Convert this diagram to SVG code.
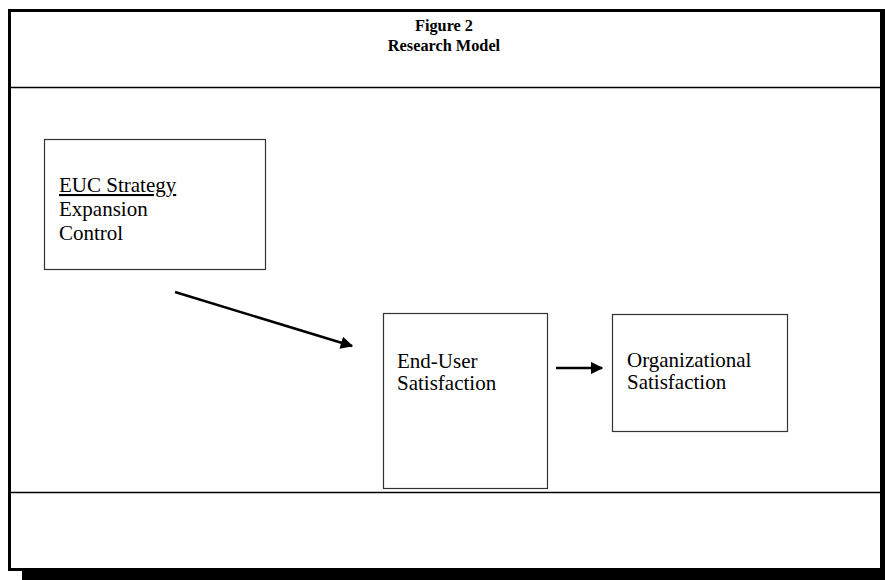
<svg xmlns="http://www.w3.org/2000/svg" width="885" height="580" viewBox="0 0 885 580">
<style>
.box{fill:#fff;stroke:#333;stroke-width:1.2}
.t{font-family:"Liberation Serif","Times New Roman",serif;font-size:21px;fill:#000}
.title{font-family:"Liberation Serif","Times New Roman",serif;font-size:16.3px;font-weight:bold;fill:#000;text-anchor:middle}
.sep{stroke:#000;stroke-width:1.5}
.conn{stroke:#000;stroke-width:2.5;fill:none}
</style>
<defs>
<marker id="ah" viewBox="0 0 10 10" refX="9" refY="5" markerWidth="5.2" markerHeight="5" orient="auto" markerUnits="strokeWidth">
<path d="M0,0 L10,5 L0,10 z" fill="#000"/>
</marker>
</defs>
<rect width="885" height="580" fill="#fff"/>
<g id="frame">
<rect x="22" y="569" width="863" height="11" fill="#000"/>
<rect x="881" y="9" width="4" height="571" fill="#000"/>
<rect x="9.5" y="10.5" width="872" height="559" fill="none" stroke="#000" stroke-width="3"/>
<line class="sep" x1="11" y1="87.5" x2="881" y2="87.5"/>
<line class="sep" x1="11" y1="492.5" x2="881" y2="492.5"/>
</g>
<g id="title">
<text class="title" x="444" y="31">Figure 2</text>
<text class="title" x="444" y="51">Research Model</text>
</g>
<g id="euc-strategy">
<rect class="box" x="44.5" y="139.5" width="221" height="130"/>
<text class="t" x="59" y="192" text-decoration="underline">EUC Strategy</text>
<text class="t" x="59" y="216">Expansion</text>
<text class="t" x="59" y="240">Control</text>
</g>
<g id="end-user-satisfaction">
<rect class="box" x="383.5" y="313.5" width="164" height="175"/>
<text class="t" x="397" y="368">End-User</text>
<text class="t" x="397" y="390">Satisfaction</text>
</g>
<g id="organizational-satisfaction">
<rect class="box" x="612.5" y="314.5" width="175" height="117"/>
<text class="t" x="627" y="367">Organizational</text>
<text class="t" x="627" y="389">Satisfaction</text>
</g>
<g id="connectors">
<line class="conn" x1="175" y1="292" x2="352" y2="346" marker-end="url(#ah)"/>
<line class="conn" x1="556" y1="368" x2="602" y2="368" marker-end="url(#ah)"/>
</g>
</svg>
